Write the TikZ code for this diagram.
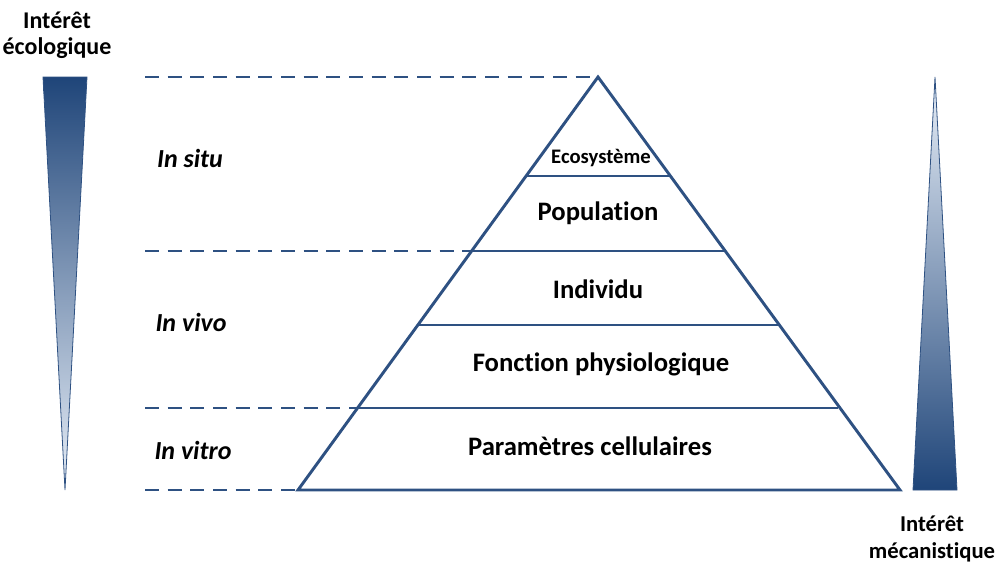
\documentclass[tikz,border=0pt]{standalone}
\usepackage{fontspec}
\setmainfont{Carlito}[Ligatures=NoCommon]
\definecolor{navy}{HTML}{2E5182}
\definecolor{darkfill}{HTML}{1F4579}
\definecolor{lightfill}{HTML}{E8EFF8}

\begin{document}
\begin{tikzpicture}[x=0.75pt, y=-0.75pt, font=\bfseries]
    \useasboundingbox (0,0) rectangle (998,564);

    % pyramid corners
    \coordinate (apex) at (598,77);
    \coordinate (bl) at (298,490);
    \coordinate (br) at (900,490);

    % the pyramid and its levels
    \draw[navy, line width=2.2pt, line join=miter] (apex) -- (bl) -- (br) -- cycle;
    \draw[navy, line width=2.2pt] (526,176) -- (670,176);
    \draw[navy, line width=2.2pt] (472,251) -- (725,251);
    \draw[navy, line width=2.2pt] (417,325) -- (779,325);
    \draw[navy, line width=2.2pt] (358,408) -- (838,408);

    % dashed guides on the left
    \draw[navy, line width=2.2pt, dash pattern=on 10.5pt off 6.5pt] (145,77) -- (apex);
    \draw[navy, line width=2.2pt, dash pattern=on 10.5pt off 6.5pt] (145,251) -- (472,251);
    \draw[navy, line width=2.2pt, dash pattern=on 10.5pt off 6.5pt] (145,408) -- (358,408);
    \draw[navy, line width=2.2pt, dash pattern=on 10.5pt off 6.5pt] (145,490) -- (bl);

    % gradient wedges
    \shade[top color=darkfill, bottom color=lightfill] (43,77) -- (87,77) -- (65,490) -- cycle;
    \draw[navy, line width=0.6pt] (43,77) -- (87,77) -- (65,490) -- cycle;
    \shade[top color=lightfill, bottom color=darkfill] (935,77) -- (957,490) -- (913,490) -- cycle;
    \draw[navy, line width=0.6pt] (935,77) -- (957,490) -- (913,490) -- cycle;

    % level labels
    \node[font=\bfseries\fontsize{15.5}{17}\selectfont] (eco) at (601,158) {Ecosystème};
    \node[font=\bfseries\fontsize{20}{22}\selectfont] (pop) at (598,213) {Population};
    \node[font=\bfseries\fontsize{20}{22}\selectfont] (ind) at (598,289) {Individu};
    \node[font=\bfseries\fontsize{20}{22}\selectfont] (fct) at (601,364) {Fonction physiologique};
    \node[font=\bfseries\fontsize{20}{22}\selectfont] (par) at (590,446) {Paramètres cellulaires};

    % scale labels
    \node[font=\bfseries\itshape\fontsize{19.5}{21}\selectfont] (situ) at (190,158) {In situ};
    \node[font=\bfseries\itshape\fontsize{19.5}{21}\selectfont] (vivo) at (191,322) {In vivo};
    \node[font=\bfseries\itshape\fontsize{19.5}{21}\selectfont] (vitro) at (193,450) {In vitro};

    % axis titles
    \node[font=\bfseries\fontsize{18}{19.5}\selectfont, align=center] (eco-int) at (57,35) {Intérêt\\écologique};
    \node[font=\bfseries\fontsize{17}{20.5}\selectfont, align=center] (meca-int) at (932,539) {Intérêt\\mécanistique};
\end{tikzpicture}
\end{document}
